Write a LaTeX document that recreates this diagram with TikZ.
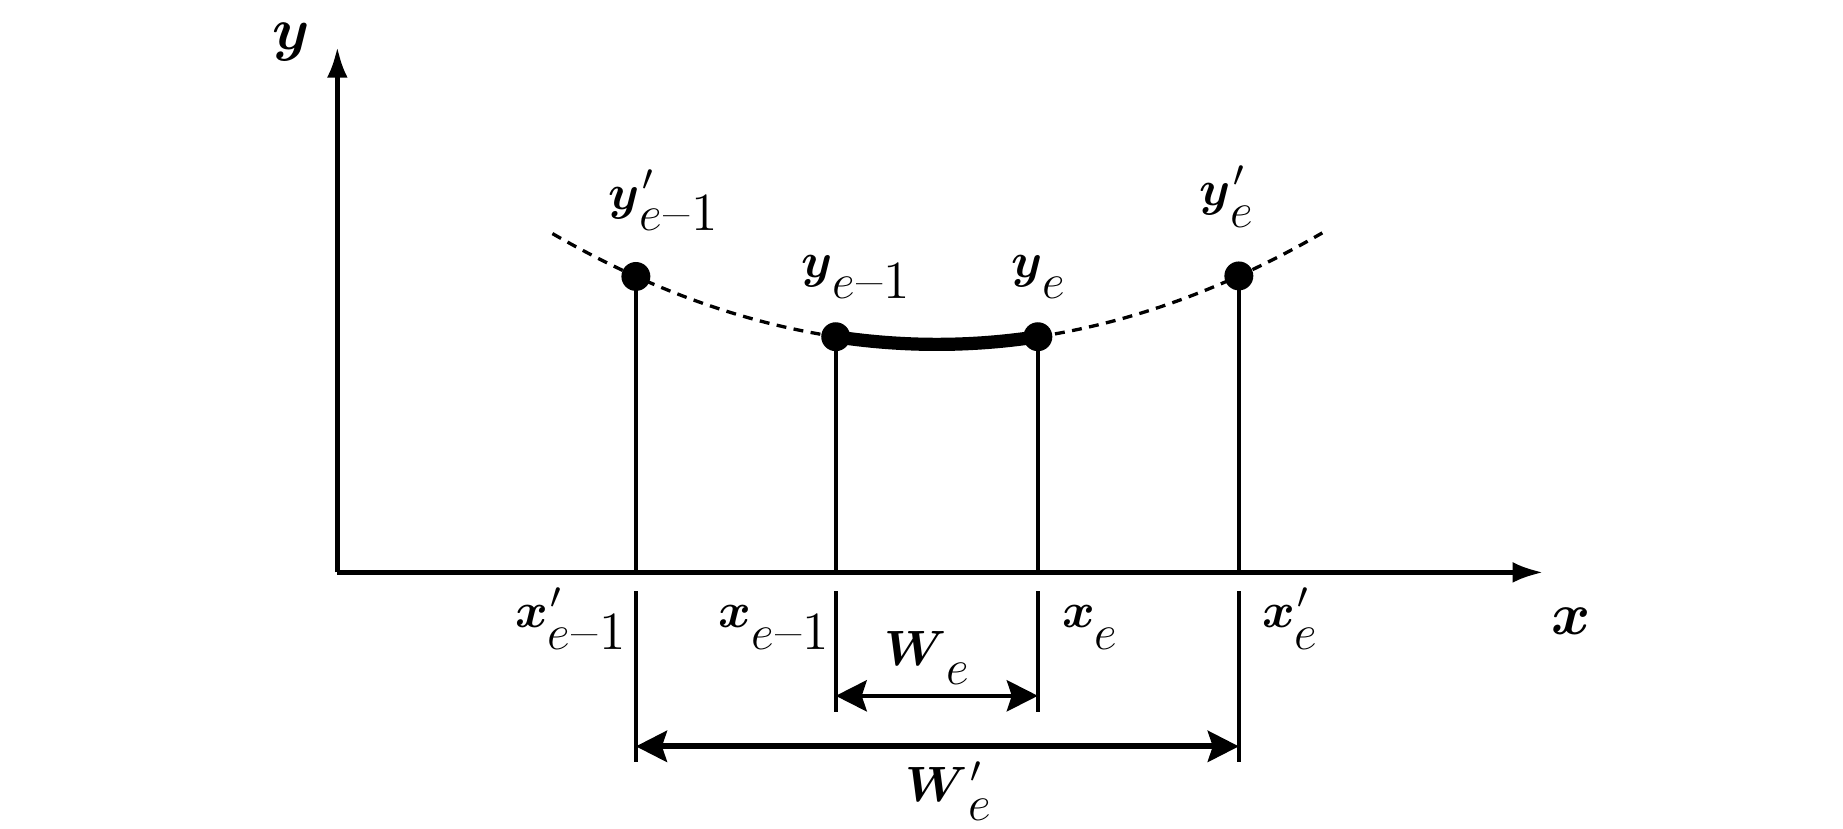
\documentclass[tikz,border=0pt]{standalone}
\usetikzlibrary{arrows.meta}
\newcommand{\mainl}[1]{{\boldmath$#1$}}
\newcommand{\Lb}[2]{\mainl{#1}\raisebox{-0.4em}{#2}}
\newcommand{\Lbp}[2]{\mainl{#1}\rlap{\kern0.05em\raisebox{0.02em}{$^{\prime}$}}\raisebox{-0.4em}{#2}}
\newcommand{\eone}{$e$\kern0.03em\textendash\kern0.02em 1}
\begin{document}
\begin{tikzpicture}[x=0.01cm,y=-0.01cm,
  font=\fontsize{13}{15}\selectfont,
  axis/.style={line width=1.1pt,-{Latex[length=7.4pt,width=5pt]}},
  stem/.style={line width=0.95pt},
  dimline/.style={line width=1.1pt,{Stealth[length=7.5pt,width=7.5pt,inset=1.2pt]}-{Stealth[length=7.5pt,width=7.5pt,inset=1.2pt]}},
  dashcurve/.style={line width=0.8pt,dash pattern=on 2.4pt off 1.8pt},
  thickcurve/.style={line width=3.2pt,line cap=round},
  dot/.style={circle,fill,inner sep=0pt,minimum size=7pt},
  lab/.style={inner sep=0pt},
  axlab/.style={inner sep=0pt,font=\fontsize{15.5}{18}\selectfont\boldmath}]
\useasboundingbox (0,0) rectangle (1568,705.3);
% axes
\coordinate (O) at (287,487);
\coordinate (Xend) at (1313,487);
\coordinate (Yend) at (287,40);
\draw[axis] (O) -- (Xend);
\draw[axis] (O) -- (Yend);
\node[axlab] (ylab) at (248,36) {$y$};
\node[axlab] (xlab) at (1337,529) {$x$};
% curve  y = 293 - (0.0297 (x-797))^2
\draw[dashcurve] plot[domain=470:711,samples=40] (\x,{293-(0.0297*(\x-797))^2});
\draw[dashcurve] plot[domain=883:1125,samples=40] (\x,{293-(0.0297*(\x-797))^2});
\draw[thickcurve] plot[domain=711:883,samples=30] (\x,{293-(0.0297*(\x-797))^2});
% points
\node[dot] (p1) at (541,{293-(0.0297*(541-797))^2}) {};
\node[dot] (p2) at (711,{293-(0.0297*(711-797))^2}) {};
\node[dot] (p3) at (883,{293-(0.0297*(883-797))^2}) {};
\node[dot] (p4) at (1054,{293-(0.0297*(1054-797))^2}) {};
\coordinate (f1) at (541,487);
\coordinate (f2) at (711,487);
\coordinate (f3) at (883,487);
\coordinate (f4) at (1054,487);
\draw[stem] (p1.center) -- (f1);
\draw[stem] (p2.center) -- (f2);
\draw[stem] (p3.center) -- (f3);
\draw[stem] (p4.center) -- (f4);
% extension lines below axis
\coordinate (t1) at (541,503); \coordinate (b1) at (541,648);
\coordinate (t2) at (711,503); \coordinate (b2) at (711,606);
\coordinate (t3) at (883,503); \coordinate (b3) at (883,606);
\coordinate (t4) at (1054,503); \coordinate (b4) at (1054,648);
\draw[stem,line width=1pt] (t1) -- (b1);
\draw[stem,line width=1pt] (t2) -- (b2);
\draw[stem,line width=1pt] (t3) -- (b3);
\draw[stem,line width=1pt] (t4) -- (b4);
% dimension arrows
\coordinate (m2) at (711,592); \coordinate (m3) at (883,592);
\coordinate (n1) at (541,635); \coordinate (n4) at (1054,635);
\draw[dimline] (m2) -- (m3);
\draw[dimline,line width=1.4pt] (n1) -- (n4);
% labels
\node[lab,anchor=base west] (ly1) at (517,178) {\Lbp{y}{\eone}};
\node[lab,anchor=base west] (ly2) at (681,236) {\Lb{y}{\eone}};
\node[lab,anchor=base west] (ly3) at (860,236) {\Lb{y}{$e$}};
\node[lab,anchor=base west] (ly4) at (1020,175) {\Lbp{y}{$e$}};
\node[lab,anchor=base east] (lx1) at (533,534) {\Lbp{x}{\eone}};
\node[lab,anchor=base east] (lx2) at (706,534) {\Lb{x}{\eone}};
\node[lab,anchor=base west] (lx3) at (903,534) {\Lb{x}{$e$}};
\node[lab,anchor=base west] (lx4) at (1073,534) {\Lbp{x}{$e$}};
\node[lab,anchor=base west] (lw) at (752,566) {\mainl{W}\raisebox{-0.36em}{$e$}};
\node[lab,anchor=base west] (lwp) at (770,682) {\mainl{W}\rlap{\kern0.05em\raisebox{0.02em}{$^{\prime}$}}\raisebox{-0.36em}{$e$}};
\end{tikzpicture}
\end{document}
